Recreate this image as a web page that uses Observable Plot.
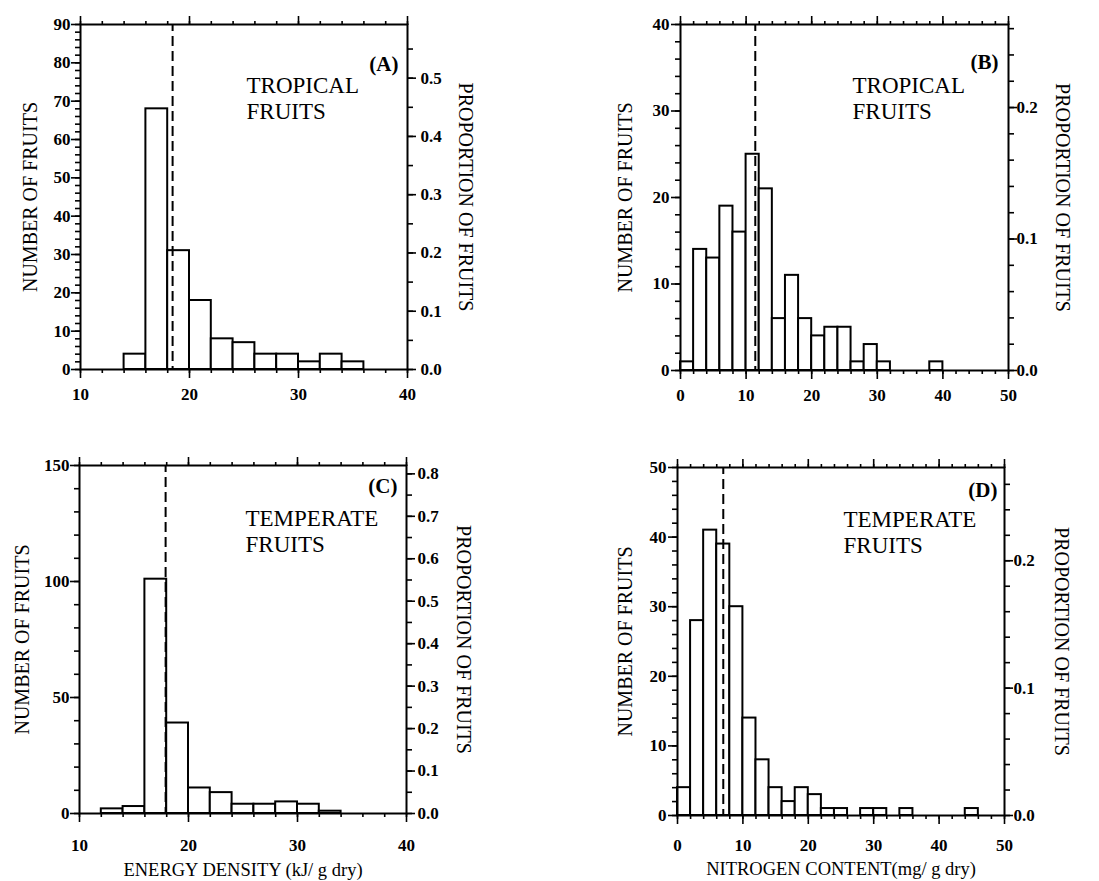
<!DOCTYPE html>
<html>
<head>
<meta charset="utf-8">
<script src="https://cdn.jsdelivr.net/npm/d3@7"></script>
<script src="https://cdn.jsdelivr.net/npm/@observablehq/plot@0.6"></script>
<style>
  html, body { margin: 0; padding: 0; background: #fff; }
  #root { position: relative; width: 1099px; height: 881px; background: #fff; overflow: hidden; }
  .panel { position: absolute; }
  .panel svg { overflow: visible; }
</style>
</head>
<body>
<div id="root"></div>
<script>
// ---------- DATA ----------
const binWidth = 2;

// (A) Tropical fruits, energy density (kJ/g dry)
const binStartsA = [14, 16, 18, 20, 22, 24, 26, 28, 30, 32, 34];
const countsA    = [4, 68, 31, 18, 8, 7, 4, 4, 2, 4, 2];
const meanA = 18.45;

// (B) Tropical fruits, nitrogen content (mg/g dry)
const binStartsB = [0, 2, 4, 6, 8, 10, 12, 14, 16, 18, 20, 22, 24, 26, 28, 30, 38];
const countsB    = [1, 14, 13, 19, 16, 25, 21, 6, 11, 6, 4, 5, 5, 1, 3, 1, 1];
const meanB = 11.4;

// (C) Temperate fruits, energy density (kJ/g dry)
const binStartsC = [12, 14, 16, 18, 20, 22, 24, 26, 28, 30, 32];
const countsC    = [2, 3, 101, 39, 11, 9, 4, 4, 5, 4, 1];
const meanC = 17.9;

// (D) Temperate fruits, nitrogen content (mg/g dry)
const binStartsD = [0, 2, 4, 6, 8, 10, 12, 14, 16, 18, 20, 22, 24, 28, 30, 34, 44];
const countsD    = [4, 28, 41, 39, 30, 14, 8, 4, 2, 4, 3, 1, 1, 1, 1, 1, 1];
const meanD = 7.0;

// tick labels
const xTicksEnergy   = [10, 20, 30, 40];
const xTicksNitrogen = [0, 10, 20, 30, 40, 50];
const yTicksA = [0, 10, 20, 30, 40, 50, 60, 70, 80, 90];
const yTicksB = [0, 10, 20, 30, 40];
const yTicksC = [0, 50, 100, 150];
const yTicksD = [0, 10, 20, 30, 40, 50];
const propTicksA = [0, 0.1, 0.2, 0.3, 0.4, 0.5];
const propTicksB = [0, 0.1, 0.2];
const propTicksC = [0, 0.1, 0.2, 0.3, 0.4, 0.5, 0.6, 0.7, 0.8];
const propTicksD = [0, 0.1, 0.2];

const panelLetters = ["(A)", "(B)", "(C)", "(D)"];
const groupLabels = ["TROPICAL\nFRUITS", "TROPICAL\nFRUITS", "TEMPERATE\nFRUITS", "TEMPERATE\nFRUITS"];
const yTitle = "NUMBER OF FRUITS";
const y2Title = "PROPORTION OF FRUITS";
const xTitleEnergy = "ENERGY DENSITY (kJ/ g dry)";
const xTitleNitrogen = "NITROGEN CONTENT(mg/ g dry)";

// ---------- DRAWING ----------
const FONT = "'Liberation Serif', 'Times New Roman', serif";
const fmt1 = d3.format(".1f");

function panel(cfg) {
  const bars = cfg.starts.map((s, i) => ({x0: s, x1: s + binWidth, count: cfg.counts[i]}));
  const N = d3.sum(cfg.counts);
  const [x0, x1] = cfg.xDomain;
  const [, yMax] = cfg.yDomain;
  const xMinor = d3.range(x0, x1 + 0.001, cfg.xMinorStep);
  const yMinor = d3.range(0, yMax + 0.001, cfg.yMinorStep);
  const pMinor = d3.range(0, yMax / N + 1e-9, cfg.pMinorStep).map(p => p * N);
  const tickStyle = {stroke: "black", strokeWidth: 1.6};
  const labelStyle = {fontSize: 17, fontWeight: "bold", fontFamily: FONT, fill: "black"};
  const none = () => "";

  const marks = [
    Plot.rectY(bars, {x1: "x0", x2: "x1", y: "count", fill: "white", stroke: "black", strokeWidth: 2}),
    Plot.ruleX([cfg.mean], {stroke: "black", strokeWidth: 2, strokeDasharray: "10,5", strokeDashoffset: -12}),
    Plot.frame({stroke: "black", strokeWidth: 2}),
    // bottom axis
    Plot.axisX(cfg.xTicks, {anchor: "bottom", tickSize: 9, tickFormat: none, label: null, ...tickStyle}),
    Plot.axisX(xMinor, {anchor: "bottom", tickSize: 4, tickFormat: none, label: null, ...tickStyle}),
    Plot.axisX(cfg.xTicks, {anchor: "bottom", tickSize: 0, tickPadding: cfg.xLabelPad, label: null, ...labelStyle}),
    // top axis
    Plot.axisX(cfg.xTicks, {anchor: "top", tickSize: 9, tickFormat: none, label: null, ...tickStyle}),
    Plot.axisX(xMinor, {anchor: "top", tickSize: 4, tickFormat: none, label: null, ...tickStyle}),
    // left axis
    Plot.axisY(cfg.yTicks, {anchor: "left", tickSize: 9, tickFormat: none, label: null, ...tickStyle}),
    Plot.axisY(yMinor, {anchor: "left", tickSize: 5, tickFormat: none, label: null, ...tickStyle}),
    Plot.axisY(cfg.yTicks, {anchor: "left", tickSize: 0, tickPadding: cfg.yLabelPad, label: null, ...labelStyle}),
    // right axis (proportion = count / N)
    Plot.axisY(cfg.pTicks.map(p => p * N), {anchor: "right", tickSize: 8, tickFormat: none, label: null, ...tickStyle}),
    Plot.axisY(pMinor, {anchor: "right", tickSize: 5, tickFormat: none, label: null, ...tickStyle}),
    Plot.axisY(cfg.pTicks.map(p => p * N), {anchor: "right", tickSize: 0, tickPadding: cfg.pLabelPad, label: null,
      tickFormat: d => fmt1(d / N), ...labelStyle}),
    // titles
    Plot.text([yTitle], {frameAnchor: "left", textAnchor: "middle", rotate: -90, dx: cfg.yTitleDx,
      fontSize: 20, fontFamily: FONT, fill: "black"}),
    Plot.text([y2Title], {frameAnchor: "right", textAnchor: "middle", rotate: 90, dx: cfg.y2TitleDx,
      fontSize: 20, fontFamily: FONT, fill: "black"}),
    Plot.text([cfg.letter], {frameAnchor: "top-right", textAnchor: "end", lineAnchor: "top", dx: cfg.letterDx, dy: cfg.letterDy,
      fontSize: 21, fontWeight: "bold", fontFamily: FONT, fill: "black"}),
    Plot.text([cfg.group], {frameAnchor: "top-left", textAnchor: "start", lineAnchor: "top", dx: cfg.groupDx, dy: cfg.groupDy,
      fontSize: 23, lineHeight: 1.14, fontFamily: FONT, fill: "black"})
  ];
  if (cfg.xTitle) {
    marks.push(Plot.text([cfg.xTitle], {frameAnchor: "bottom", textAnchor: "middle", lineAnchor: "middle", dy: cfg.xTitleDy,
      fontSize: 18.5, fontFamily: FONT, fill: "black"}));
  }

  const chart = Plot.plot({
    width: cfg.width, height: cfg.height,
    marginLeft: cfg.mL, marginRight: cfg.mR, marginTop: cfg.mT, marginBottom: cfg.mB,
    x: {domain: cfg.xDomain, label: null},
    y: {domain: cfg.yDomain, label: null},
    style: {fontFamily: FONT, color: "black", background: "transparent", overflow: "visible"},
    marks
  });
  const div = document.createElement("div");
  div.className = "panel";
  div.style.left = cfg.left + "px";
  div.style.top = cfg.top + "px";
  div.appendChild(chart);
  document.getElementById("root").appendChild(div);
}

panel({
  left: 0, top: 0, width: 550, height: 420, mL: 80, mR: 143, mT: 24, mB: 51,
  starts: binStartsA, counts: countsA, mean: meanA,
  xDomain: [10, 40], yDomain: [0, 90], xTicks: xTicksEnergy, yTicks: yTicksA, pTicks: propTicksA,
  xMinorStep: 2, yMinorStep: 2, pMinorStep: 0.05,
  xLabelPad: 18, yLabelPad: 10, pLabelPad: 13,
  yTitleDx: -50, y2TitleDx: 58, letter: panelLetters[0], letterDx: -9, letterDy: 32,
  group: groupLabels[0], groupDx: 166, groupDy: 50
});
panel({
  left: 550, top: 0, width: 549, height: 420, mL: 130, mR: 91, mT: 24, mB: 50,
  starts: binStartsB, counts: countsB, mean: meanB,
  xDomain: [0, 50], yDomain: [0, 40], xTicks: xTicksNitrogen, yTicks: yTicksB, pTicks: propTicksB,
  xMinorStep: 2, yMinorStep: 2, pMinorStep: 0.02,
  xLabelPad: 18, yLabelPad: 11, pLabelPad: 8,
  yTitleDx: -55, y2TitleDx: 54, letter: panelLetters[1], letterDx: -10, letterDy: 30,
  group: groupLabels[1], groupDx: 172, groupDy: 50
});
panel({
  left: 0, top: 430, width: 550, height: 451, mL: 79, mR: 144, mT: 35, mB: 68,
  starts: binStartsC, counts: countsC, mean: meanC,
  xDomain: [10, 40], yDomain: [0, 150], xTicks: xTicksEnergy, yTicks: yTicksC, pTicks: propTicksC,
  xMinorStep: 2, yMinorStep: 10, pMinorStep: 0.05,
  xLabelPad: 25, yLabelPad: 10, pLabelPad: 11,
  yTitleDx: -57, y2TitleDx: 57, letter: panelLetters[2], letterDx: -9, letterDy: 13,
  group: groupLabels[2], groupDx: 166, groupDy: 42,
  xTitle: xTitleEnergy, xTitleDy: 57
});
panel({
  left: 550, top: 430, width: 549, height: 451, mL: 127, mR: 95, mT: 37, mB: 66,
  starts: binStartsD, counts: countsD, mean: meanD,
  xDomain: [0, 50], yDomain: [0, 50], xTicks: xTicksNitrogen, yTicks: yTicksD, pTicks: propTicksD,
  xMinorStep: 2, yMinorStep: 2, pMinorStep: 0.02,
  xLabelPad: 23, yLabelPad: 11, pLabelPad: 9,
  yTitleDx: -52, y2TitleDx: 57, letter: panelLetters[3], letterDx: -7, letterDy: 15,
  group: groupLabels[3], groupDx: 166, groupDy: 41,
  xTitle: xTitleNitrogen, xTitleDy: 54
});
</script>
</body>
</html>
